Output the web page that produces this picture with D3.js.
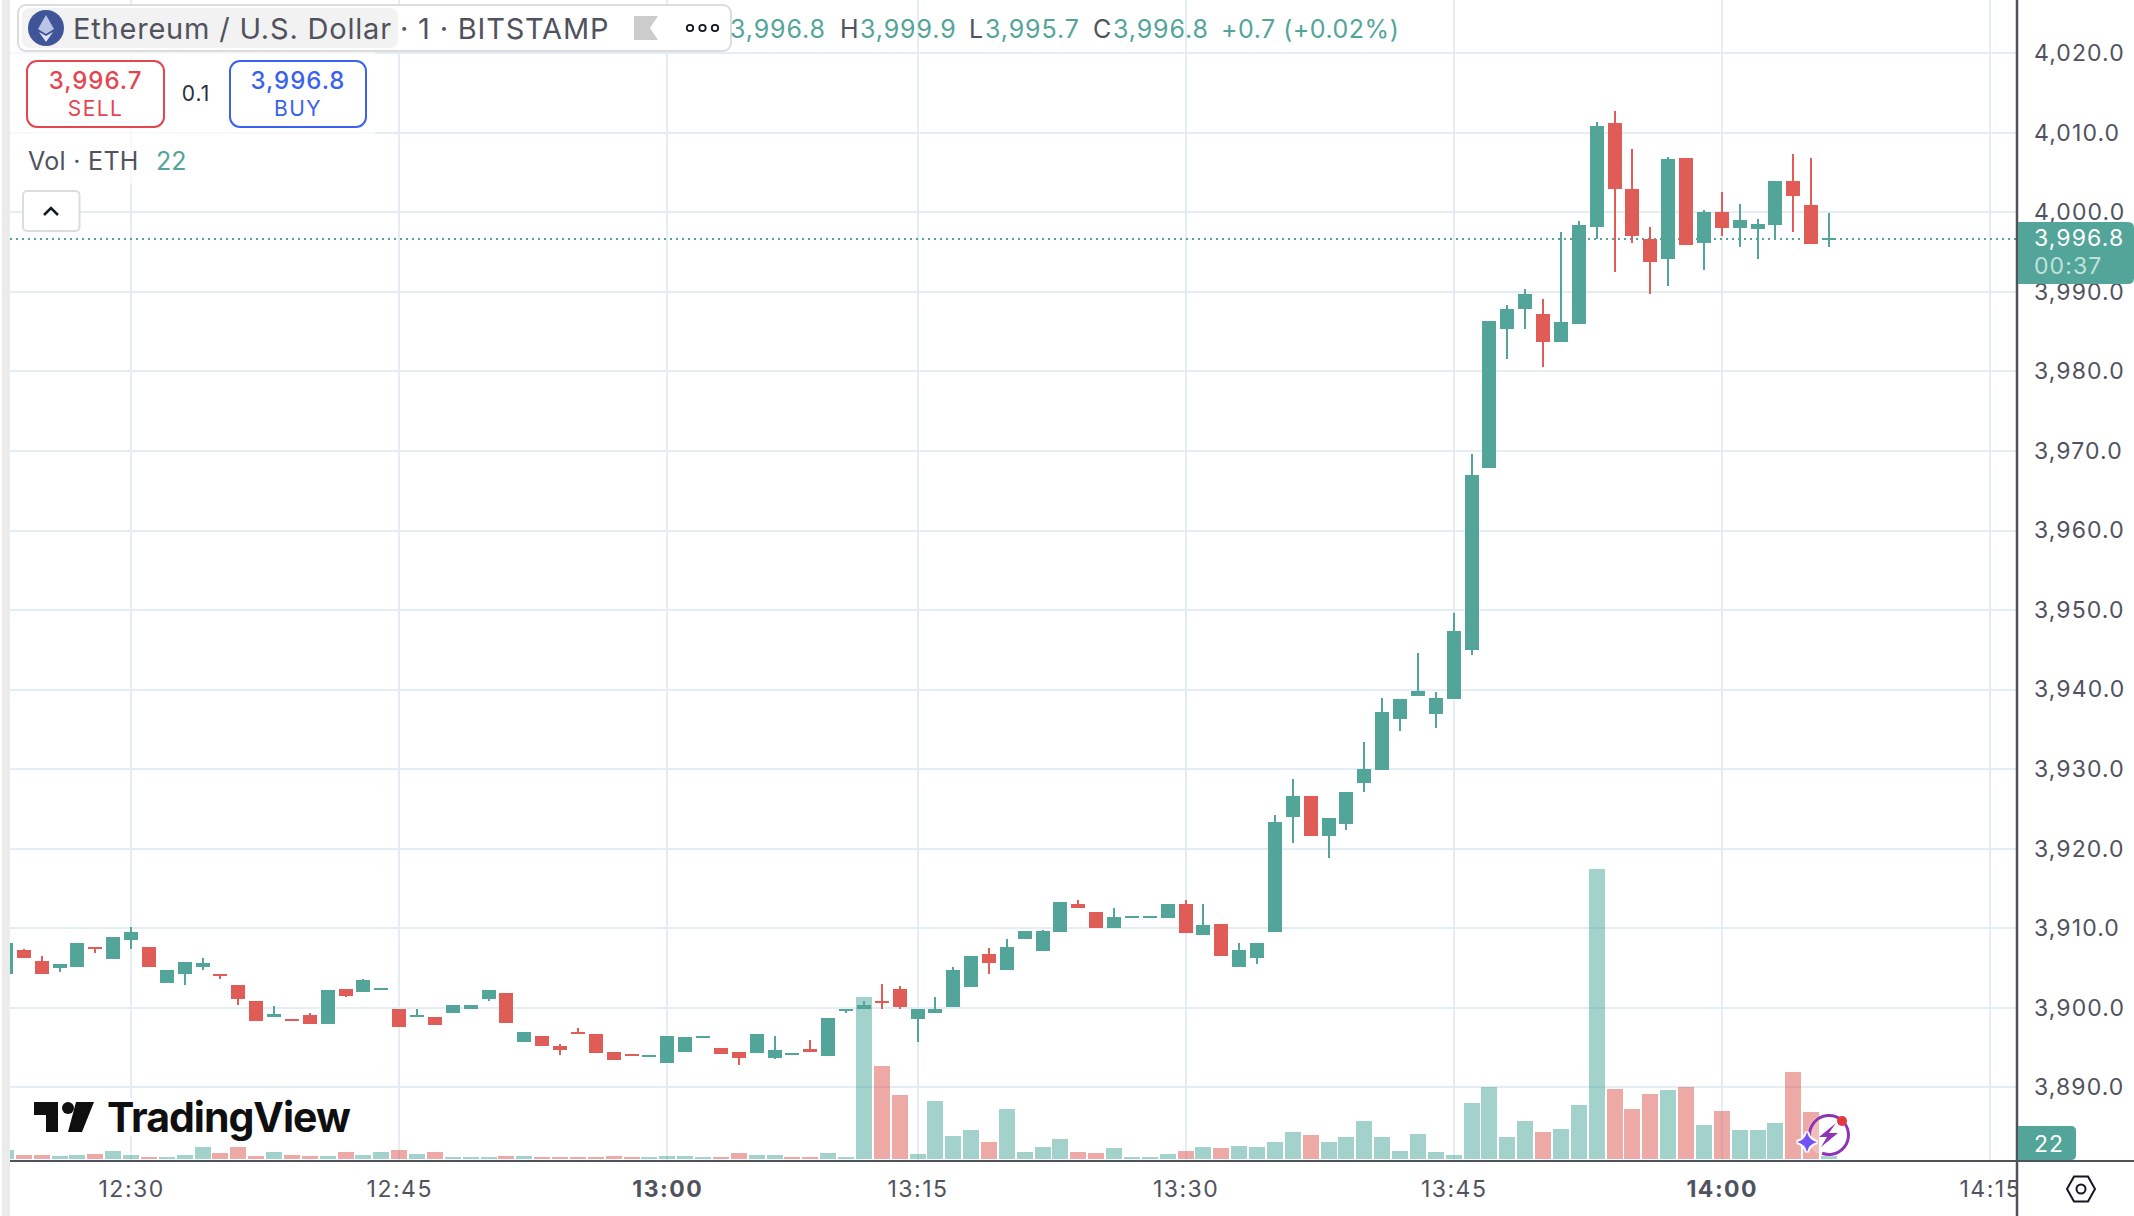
<!DOCTYPE html>
<html>
<head>
<meta charset="utf-8">
<script src="https://cdn.jsdelivr.net/npm/d3@7"></script>
<style>
  html, body { margin: 0; padding: 0; background: #fff; }
  svg { display: block; }
  text { font-family: Inter, "Noto Sans", sans-serif; }
</style>
</head>
<body>
<div id="chart"></div>
<script>
// one minute candles, bar 0 is 12:23, there is no bar for one minute before 13:15
var opens = [3904.3,3907.2,3905.9,3905.0,3905.1,3907.7,3906.1,3908.5,3907.6,3903.1,3904.2,3905.1,3904.2,3902.8,3900.9,3898.9,3898.6,3899.1,3897.9,3902.3,3902.0,3902.2,3899.8,3898.8,3898.9,3899.3,3899.9,3901.1,3901.8,3895.7,3896.5,3895.2,3896.9,3896.7,3894.4,3894.2,3893.8,3893.0,3894.5,3896.2,3895.0,3894.5,3894.3,3893.7,3894.0,3894.8,3893.9,3899.7,3899.8,3900.8,3902.3,3898.6,3899.3,3900.1,3902.6,3906.7,3904.7,3908.7,3907.1,3909.5,3913.1,3912.0,3910.0,3911.3,3911.3,3911.3,3913.1,3909.1,3910.5,3905.1,3906.3,3909.5,3924.0,3926.6,3921.6,3923.1,3928.2,3929.9,3936.3,3939.2,3936.9,3938.8,3945.0,3967.9,3985.3,3987.8,3987.2,3983.7,3986.0,3998.2,4011.2,4002.9,3996.7,3994.1,4006.8,3996.1,4000.1,3998.0,3997.9,3998.4,4003.9,4000.9,3996.8];
var highs = [3908.1,3907.4,3906.5,3905.5,3908.1,3907.7,3908.9,3910.1,3907.6,3904.7,3905.7,3906.2,3904.2,3902.8,3900.9,3900.2,3898.6,3899.4,3902.2,3902.3,3903.6,3902.5,3899.8,3899.9,3898.9,3900.3,3900.4,3902.2,3901.8,3896.9,3896.5,3895.5,3897.4,3896.7,3894.4,3894.2,3894.0,3896.4,3896.3,3896.4,3895.0,3894.5,3896.7,3896.5,3894.3,3895.9,3898.7,3899.9,3900.8,3903.0,3902.7,3899.8,3901.3,3905.1,3906.5,3907.5,3908.7,3909.6,3909.8,3913.3,3913.6,3912.0,3912.6,3911.5,3911.5,3913.1,3913.6,3913.1,3910.5,3908.1,3908.2,3924.2,3928.7,3926.6,3923.8,3927.1,3933.4,3938.9,3938.8,3944.6,3939.7,3949.6,3969.6,3986.4,3988.3,3990.4,3989.1,3997.5,3998.9,4011.3,4012.7,4008.0,3998.2,4006.9,4006.8,4000.3,4002.5,4001.1,3999.2,4004.0,4007.3,4006.8,3999.9];
var lows = [3904.3,3906.2,3904.2,3904.5,3905.1,3906.9,3906.1,3907.4,3905.1,3903.1,3902.8,3904.8,3903.6,3900.3,3898.3,3898.8,3898.3,3897.9,3897.9,3901.3,3902.0,3902.2,3897.6,3898.8,3897.8,3899.3,3899.9,3900.9,3898.1,3895.7,3895.2,3894.0,3896.7,3894.3,3893.4,3893.9,3893.8,3893.0,3894.5,3896.2,3894.2,3892.8,3894.3,3893.5,3894.0,3894.5,3893.9,3899.4,3899.8,3899.9,3899.9,3895.7,3899.3,3900.1,3902.6,3904.3,3904.7,3908.7,3907.1,3909.5,3912.6,3910.0,3910.0,3911.3,3911.3,3911.3,3909.4,3909.1,3906.5,3905.1,3905.5,3909.5,3920.7,3921.6,3918.8,3922.3,3927.1,3929.9,3934.8,3939.2,3935.2,3938.8,3944.3,3967.9,3981.6,3985.3,3980.6,3983.7,3986.0,3996.7,3992.5,3996.2,3989.8,3990.7,3995.9,3992.8,3997.0,3995.7,3994.1,3996.6,3997.5,3996.0,3995.7];
var closes = [3908.1,3906.2,3904.2,3905.5,3908.1,3907.5,3908.9,3909.5,3905.1,3904.7,3905.7,3905.6,3904.0,3901.1,3898.3,3899.2,3898.3,3897.9,3902.2,3901.5,3903.5,3902.5,3897.6,3899.1,3897.8,3900.3,3900.4,3902.2,3898.1,3896.9,3895.2,3894.7,3896.7,3894.3,3893.4,3893.9,3894.0,3896.4,3896.3,3896.4,3894.2,3893.7,3896.7,3894.7,3894.3,3894.5,3898.7,3899.9,3900.3,3900.6,3900.1,3899.8,3899.9,3904.8,3906.5,3905.6,3907.7,3909.6,3909.6,3913.3,3912.6,3910.0,3911.4,3911.5,3911.5,3913.1,3909.4,3910.4,3906.5,3907.2,3908.2,3923.3,3926.6,3921.6,3923.8,3927.1,3930.0,3937.2,3938.8,3939.8,3938.9,3947.4,3967.0,3986.4,3987.9,3989.8,3983.7,3986.2,3998.4,4010.9,4002.9,3997.0,3993.8,4006.7,3995.9,4000.1,3998.0,3999.0,3998.6,4004.0,4002.0,3996.0,3996.8];
var volumes = [77,34,34,26,34,43,69,34,17,17,34,103,52,103,26,60,34,26,26,60,34,60,77,43,60,17,17,17,26,26,17,17,17,17,26,17,17,26,26,17,17,52,34,34,17,17,52,17,1395,801,551,43,499,198,250,146,430,60,103,172,60,52,95,17,17,43,69,103,95,112,103,146,232,207,146,189,327,189,69,215,60,34,482,620,189,327,232,258,465,2497,603,430,560,594,620,293,413,250,250,310,749,405,22];
// bar 44 has a green candle but a red volume bar
var redVolumeBars = [44];

var priceTicks = [4020,4010,4000,3990,3980,3970,3960,3950,3940,3930,3920,3910,3900,3890];
var timeTickBars = [7,22,37,51,66,81,96,111];
var timeTickLabels = ["12:30","12:45","13:00","13:15","13:30","13:45","14:00","14:15"];
var boldTimes = ["13:00","14:00"];

var lastPrice = 3996.8;
var bidPrice = "3,996.7";
var askPrice = "3,996.8";
var spread = "0.1";
var countdown = "00:37";
var lastVolume = 22;
var ohlcParts = [
  ["3,996.8", "val", 730], ["H", "key", 840], ["3,999.9", "val", 860], ["L", "key", 969],
  ["3,995.7", "val", 985], ["C", "key", 1093], ["3,996.8", "val", 1113], ["+0.7 (+0.02%)", "val", 1221]
];

var svgWidth = 2134;
var svgHeight = 1216;
var plotLeft = 10;
var axisX = 2017;
var axisY = 1161;

var green = "#52a598";
var red = "#e05d57";
var greenVol = "#4fa79b";
var redVol = "#dd5b53";
var gridColor = "#e4ecf4";
var textColor = "#50535e";

var svg = d3.select("#chart")
  .append("svg")
  .attr("width", svgWidth)
  .attr("height", svgHeight)
  .attr("viewBox", `0 0 ${svgWidth} ${svgHeight}`);

svg.append("rect").attr("x", 2).attr("y", 0).attr("width", 8).attr("height", svgHeight).attr("fill", "#ebebeb");

var x = d3.scaleLinear().domain([0, 102]).range([6, 1829]);
var y = d3.scaleLinear().domain([4020, 3890]).range([53.3, 1087.3]);
var yVol = d3.scaleLinear().domain([0, 2500]).range([1159, 868.6]);

svg.append("defs").append("clipPath").attr("id", "plot")
  .append("rect").attr("x", plotLeft).attr("y", 0).attr("width", axisX - plotLeft).attr("height", axisY);

var plot = svg.append("g").attr("clip-path", "url(#plot)");

// grid
plot.selectAll(".vgrid")
  .data(timeTickBars)
  .enter()
  .append("line")
  .attr("x1", d => Math.round(x(d)))
  .attr("x2", d => Math.round(x(d)))
  .attr("y1", 0)
  .attr("y2", axisY)
  .attr("stroke", gridColor)
  .attr("stroke-width", 2);

plot.selectAll(".hgrid")
  .data(priceTicks)
  .enter()
  .append("line")
  .attr("x1", plotLeft)
  .attr("x2", axisX)
  .attr("y1", d => Math.round(y(d)))
  .attr("y2", d => Math.round(y(d)))
  .attr("stroke", gridColor)
  .attr("stroke-width", 2);

// white patch behind the watermark cuts the 12:30 line
plot.append("rect").attr("x", 30).attr("y", 1098).attr("width", 326).attr("height", 38).attr("fill", "#fff");

var bars = d3.range(opens.length);

plot.selectAll(".vol")
  .data(bars)
  .enter()
  .append("rect")
  .attr("x", d => Math.round(x(d)) - 8)
  .attr("y", d => Math.round(yVol(volumes[d])))
  .attr("width", 16)
  .attr("height", d => yVol(0) - Math.round(yVol(volumes[d])))
  .attr("fill", d => (closes[d] >= opens[d] && redVolumeBars.indexOf(d) < 0) ? greenVol : redVol)
  .attr("opacity", 0.52);

// last price line
plot.append("line")
  .attr("x1", plotLeft)
  .attr("x2", axisX)
  .attr("y1", Math.round(y(lastPrice)) + 1)
  .attr("y2", Math.round(y(lastPrice)) + 1)
  .attr("stroke", green)
  .attr("stroke-width", 2)
  .attr("stroke-dasharray", "2 4");

plot.selectAll(".wick")
  .data(bars)
  .enter()
  .append("rect")
  .attr("x", d => Math.round(x(d)) - 1)
  .attr("y", d => Math.round(y(highs[d])))
  .attr("width", 2)
  .attr("height", d => Math.round(y(lows[d])) - Math.round(y(highs[d])))
  .attr("fill", d => closes[d] >= opens[d] ? green : red);

plot.selectAll(".body")
  .data(bars)
  .enter()
  .append("rect")
  .attr("x", d => Math.round(x(d)) - 7)
  .attr("y", d => Math.round(y(Math.max(opens[d], closes[d]))))
  .attr("width", 14)
  .attr("height", d => Math.max(2, Math.round(y(Math.min(opens[d], closes[d]))) - Math.round(y(Math.max(opens[d], closes[d])))))
  .attr("fill", d => closes[d] >= opens[d] ? green : red);

// time axis
var timeAxis = d3.axisBottom(x)
  .tickValues(timeTickBars)
  .tickSize(0)
  .tickFormat((d, i) => timeTickLabels[i]);

var timeG = svg.append("g")
  .attr("transform", `translate(0, ${axisY})`)
  .call(timeAxis);
timeG.select(".domain").remove();
timeG.selectAll("text")
  .attr("y", 36)
  .attr("dy", 0)
  .attr("fill", textColor)
  .attr("font-size", 23)
  .attr("font-family", "Inter")
  .attr("letter-spacing", 1.5)
  .attr("font-weight", (d, i) => boldTimes.indexOf(timeTickLabels[i]) >= 0 ? 700 : 400);

// right panel hides the part of 14:15 that runs past the scale
svg.append("rect").attr("x", axisX).attr("y", axisY).attr("width", svgWidth - axisX).attr("height", svgHeight - axisY).attr("fill", "#fff");

// price axis
var priceAxis = d3.axisRight(y)
  .tickValues(priceTicks)
  .tickSize(0)
  .tickPadding(17)
  .tickFormat(d3.format(",.1f"));

var priceG = svg.append("g")
  .attr("transform", `translate(${axisX}, 0)`)
  .call(priceAxis);
priceG.select(".domain").remove();
priceG.selectAll("text")
  .attr("fill", textColor)
  .attr("font-size", 23)
  .attr("font-family", "Inter")
  .attr("letter-spacing", 1.1);

svg.append("line").attr("x1", axisX).attr("x2", axisX).attr("y1", 0).attr("y2", svgHeight).attr("stroke", textColor).attr("stroke-width", 2.5);
svg.append("line").attr("x1", plotLeft).attr("x2", svgWidth).attr("y1", axisY).attr("y2", axisY).attr("stroke", textColor).attr("stroke-width", 2);

// last price tag
svg.append("path")
  .attr("d", `M${axisX + 1},222 H2128 Q2134,222 2134,228 V278 Q2134,284 2128,284 H${axisX + 1} Z`)
  .attr("fill", green);
svg.append("text").attr("x", 2034).attr("y", 246).attr("fill", "#fff").attr("font-size", 23).attr("letter-spacing", 1.1)
  .text(d3.format(",.1f")(lastPrice));
svg.append("text").attr("x", 2034).attr("y", 274).attr("fill", "#c2e0dc").attr("font-size", 23).attr("letter-spacing", 1.1)
  .text(countdown);

// volume tag
svg.append("path")
  .attr("d", `M${axisX + 1},1126 H2071 Q2076,1126 2076,1131 V1155 Q2076,1160 2071,1160 H${axisX + 1} Z`)
  .attr("fill", green);
svg.append("text").attr("x", 2049).attr("y", 1152).attr("fill", "#fff").attr("font-size", 23).attr("letter-spacing", 1).attr("text-anchor", "middle")
  .text(lastVolume);

// settings icon
svg.append("path")
  .attr("d", "M2067,1189 L2074,1176.5 H2088 L2095,1189 L2088,1201.5 H2074 Z")
  .attr("fill", "none").attr("stroke", "#131722").attr("stroke-width", 2);
svg.append("circle").attr("cx", 2081).attr("cy", 1189).attr("r", 4.5).attr("fill", "none").attr("stroke", "#131722").attr("stroke-width", 2);

// watermark
var logo = svg.append("g").attr("fill", "#0f0f0f");
logo.append("path").attr("d", "M34,1102 H58 V1132 H46 V1115 H34 Z");
logo.append("circle").attr("cx", 68).attr("cy", 1108).attr("r", 6);
logo.append("path").attr("d", "M76,1102 H94 L82,1132 H68 Z");
logo.append("text").attr("x", 107).attr("y", 1132).attr("font-size", 41).attr("font-weight", 700).attr("letter-spacing", -1).text("TradingView");

// assistant badge near the last bar
var badge = svg.append("g");
badge.append("circle").attr("cx", 1829).attr("cy", 1135).attr("r", 22).attr("fill", "#fff").attr("opacity", 0.25);
badge.append("circle").attr("cx", 1829).attr("cy", 1135).attr("r", 19.5).attr("fill", "none").attr("stroke", "#8e35b5").attr("stroke-width", 3)
  .attr("stroke-dasharray", "100 23").attr("transform", "rotate(175 1829 1135)");
badge.append("path").attr("d", "M1836,1123 L1819,1137 L1827,1137 L1821,1147 L1838,1133 L1829,1133 Z").attr("fill", "#8e35b5");
badge.append("circle").attr("cx", 1842).attr("cy", 1121).attr("r", 5).attr("fill", "#e2393f");
badge.append("path").attr("d", "M1807,1132 Q1809,1140 1817,1142 Q1809,1144 1807,1152 Q1805,1144 1797,1142 Q1805,1140 1807,1132 Z")
  .attr("fill", "#7352f5").attr("stroke", "#fff").attr("stroke-width", 4).attr("paint-order", "stroke");

// legend block
svg.append("rect").attr("x", plotLeft).attr("y", 52).attr("width", 365).attr("height", 132).attr("fill", "#fff").attr("opacity", 0.65);
svg.append("rect").attr("x", 18).attr("y", 5).attr("width", 713).attr("height", 46).attr("rx", 8).attr("fill", "#fff").attr("stroke", "#dcdcdc").attr("stroke-width", 2);
svg.append("rect").attr("x", 22).attr("y", 8).attr("width", 376).attr("height", 40).attr("rx", 8).attr("fill", "#f2f2f2");

svg.append("circle").attr("cx", 46).attr("cy", 28).attr("r", 18).attr("fill", "#3f5597");
svg.append("path").attr("d", "M46,15 L54,29 L46,34 L38,29 Z").attr("fill", "#b9c4e6");
svg.append("path").attr("d", "M46,36 L53,32 L46,42 L39,32 Z").attr("fill", "#dfe5f7");

svg.append("text").attr("x", 73).attr("y", 39).attr("fill", textColor).attr("font-size", 29).attr("letter-spacing", 0.8).text("Ethereum / U.S. Dollar");
svg.append("text").attr("x", 400).attr("y", 39).attr("fill", textColor).attr("font-size", 29).attr("letter-spacing", 0.8).text("· 1 · BITSTAMP");

svg.append("path").attr("d", "M634,16 H658 L650,28 L658,40 H634 Z").attr("fill", "#cccccc");
svg.selectAll(".more")
  .data([690, 702.5, 715])
  .enter()
  .append("circle")
  .attr("cx", d => d).attr("cy", 28).attr("r", 3.2)
  .attr("fill", "none").attr("stroke", "#131722").attr("stroke-width", 1.8);

svg.selectAll(".ohlc")
  .data(ohlcParts)
  .enter()
  .append("text")
  .attr("x", d => d[2])
  .attr("y", 38)
  .attr("font-size", 25)
  .attr("letter-spacing", d => d[0].length > 8 ? 0.5 : 0.9)
  .attr("fill", d => d[1] == "val" ? green : textColor)
  .text(d => d[0]);

// sell and buy buttons
svg.append("rect").attr("x", 27).attr("y", 61).attr("width", 137).attr("height", 66).attr("rx", 10).attr("fill", "#fff").attr("stroke", "#e5454f").attr("stroke-width", 2);
svg.append("rect").attr("x", 230).attr("y", 61).attr("width", 136).attr("height", 66).attr("rx", 10).attr("fill", "#fff").attr("stroke", "#3962f0").attr("stroke-width", 2);
svg.append("text").attr("x", 95.5).attr("y", 89).attr("text-anchor", "middle").attr("fill", "#e5454f").attr("font-size", 24).attr("font-weight", 500).attr("letter-spacing", 1).text(bidPrice);
svg.append("text").attr("x", 95.5).attr("y", 116).attr("text-anchor", "middle").attr("fill", "#e5454f").attr("font-size", 21).attr("letter-spacing", 1.4).text("SELL");
svg.append("text").attr("x", 298).attr("y", 89).attr("text-anchor", "middle").attr("fill", "#3962f0").attr("font-size", 24).attr("font-weight", 500).attr("letter-spacing", 1).text(askPrice);
svg.append("text").attr("x", 298).attr("y", 116).attr("text-anchor", "middle").attr("fill", "#3962f0").attr("font-size", 21).attr("letter-spacing", 1.4).text("BUY");
svg.append("text").attr("x", 196).attr("y", 101).attr("text-anchor", "middle").attr("fill", "#2a2e39").attr("font-size", 21).attr("letter-spacing", 1).text(spread);

svg.append("text").attr("x", 28).attr("y", 170).attr("fill", textColor).attr("font-size", 25).attr("letter-spacing", 0.3).text("Vol · ETH");
svg.append("text").attr("x", 156).attr("y", 170).attr("fill", green).attr("font-size", 25).text(lastVolume);

// collapse button
svg.append("rect").attr("x", 23).attr("y", 191).attr("width", 56.5).attr("height", 40).attr("rx", 4).attr("fill", "#fff").attr("stroke", "#dcdcdc").attr("stroke-width", 2);
svg.append("path").attr("d", "M44,215 L51,208 L58,215").attr("fill", "none").attr("stroke", "#131722").attr("stroke-width", 2.5);
</script>
</body>
</html>
